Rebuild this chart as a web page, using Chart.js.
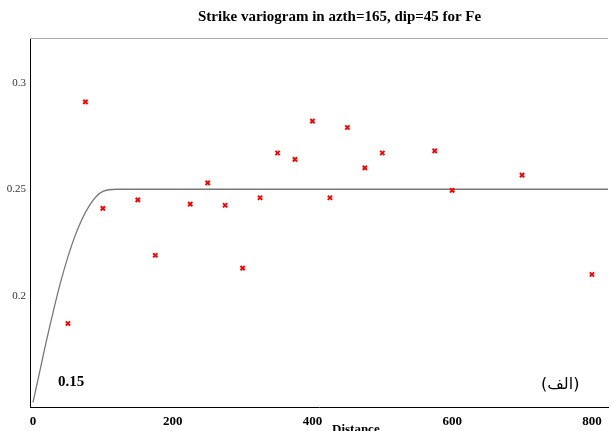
<!DOCTYPE html>
<html><head><meta charset="utf-8">
<script src="https://cdn.jsdelivr.net/npm/chart.js@4"></script>
<style>body{margin:0;background:#fff}#w{position:relative;width:614px;height:431px}
.t{position:absolute;font-family:"Liberation Serif",serif;font-weight:bold;color:#000}</style>
</head><body><div id="w"><canvas id="c" width="614" height="431"></canvas>
<div class="t" style="left:198px;top:8px;font-size:15px">Strike variogram in azth=165, dip=45 for Fe</div>
<div class="t" style="left:58px;top:373px;font-size:15px">0.15</div>
<div class="t" style="left:541px;top:374px;font-size:16px;font-weight:normal;font-family:'DejaVu Sans'">(الف)</div>
<div class="t" style="left:332px;top:421px;font-size:13px">Distance</div>
</div>
<script>
const lags = [50,75,100,150,175,225,250,275,300,325,350,375,400,425,450,475,500,575,600,700,800];
const gammas = [0.187,0.291,0.241,0.245,0.219,0.243,0.253,0.2425,0.213,0.246,0.267,0.264,0.282,0.246,0.279,0.260,0.267,0.268,0.2495,0.2566,0.210];
const modelX = [0,10,20,40,60,80,100,120,860];
const modelY = [0.15,0.165,0.18,0.207,0.228,0.242,0.249,0.25,0.25];
const xTicks = [0,200,400,600,800];
const yTicks = [0.2,0.25,0.3];

new Chart(document.getElementById("c"), {
  type: "scatter",
  data: {
    datasets: [
      {
        data: lags.map((x, i) => ({x, y: gammas[i]})),
        pointStyle: "crossRot", pointRadius: 3, borderWidth: 2,
        borderColor: "#f00", backgroundColor: "#f00"
      },
      {
        type: "line",
        data: modelX.map((x, i) => ({x, y: modelY[i]})),
        borderColor: "#777", borderWidth: 1.3, pointRadius: 0,
        cubicInterpolationMode: "monotone", fill: false
      }
    ]
  },
  options: {
    responsive: false, animation: false,
    layout: {padding: {left: 0, right: 0, top: 38, bottom: 0}},
    plugins: {legend: {display: false}, tooltip: {enabled: false}},
    scales: {
      x: {
        type: "linear", min: -4.3, max: 823,
        afterBuildTicks: (a) => { a.ticks = xTicks.map((v) => ({value: v})); },
        grid: {display: false, drawTicks: true, tickLength: 4, tickColor: "#000"},
        border: {color: "#000"},
        ticks: {color: "#000", font: {family: "Liberation Serif", weight: "bold", size: 13}, padding: 2}
      },
      y: {
        min: 0.1476, max: 0.321,
        afterBuildTicks: (a) => { a.ticks = yTicks.map((v) => ({value: v})); },
        afterFit: (a) => { a.width = 30; },
        grid: {display: false, tickLength: 3, tickColor: "#000"},
        border: {color: "#000"},
        ticks: {color: "#333", font: {family: "Liberation Serif", size: 11}, padding: 1,
          callback: (v) => String(v)}
      }
    }
  },
  plugins: [{
    id: "frame",
    afterDraw(ch) {
      const {ctx, chartArea: a} = ch;
      ctx.save(); ctx.strokeStyle = "#aaa"; ctx.lineWidth = 1;
      ctx.beginPath(); ctx.moveTo(a.left, a.top + 0.5); ctx.lineTo(a.right, a.top + 0.5); ctx.stroke();
      ctx.restore();
    }
  }]
});
</script></body></html>
